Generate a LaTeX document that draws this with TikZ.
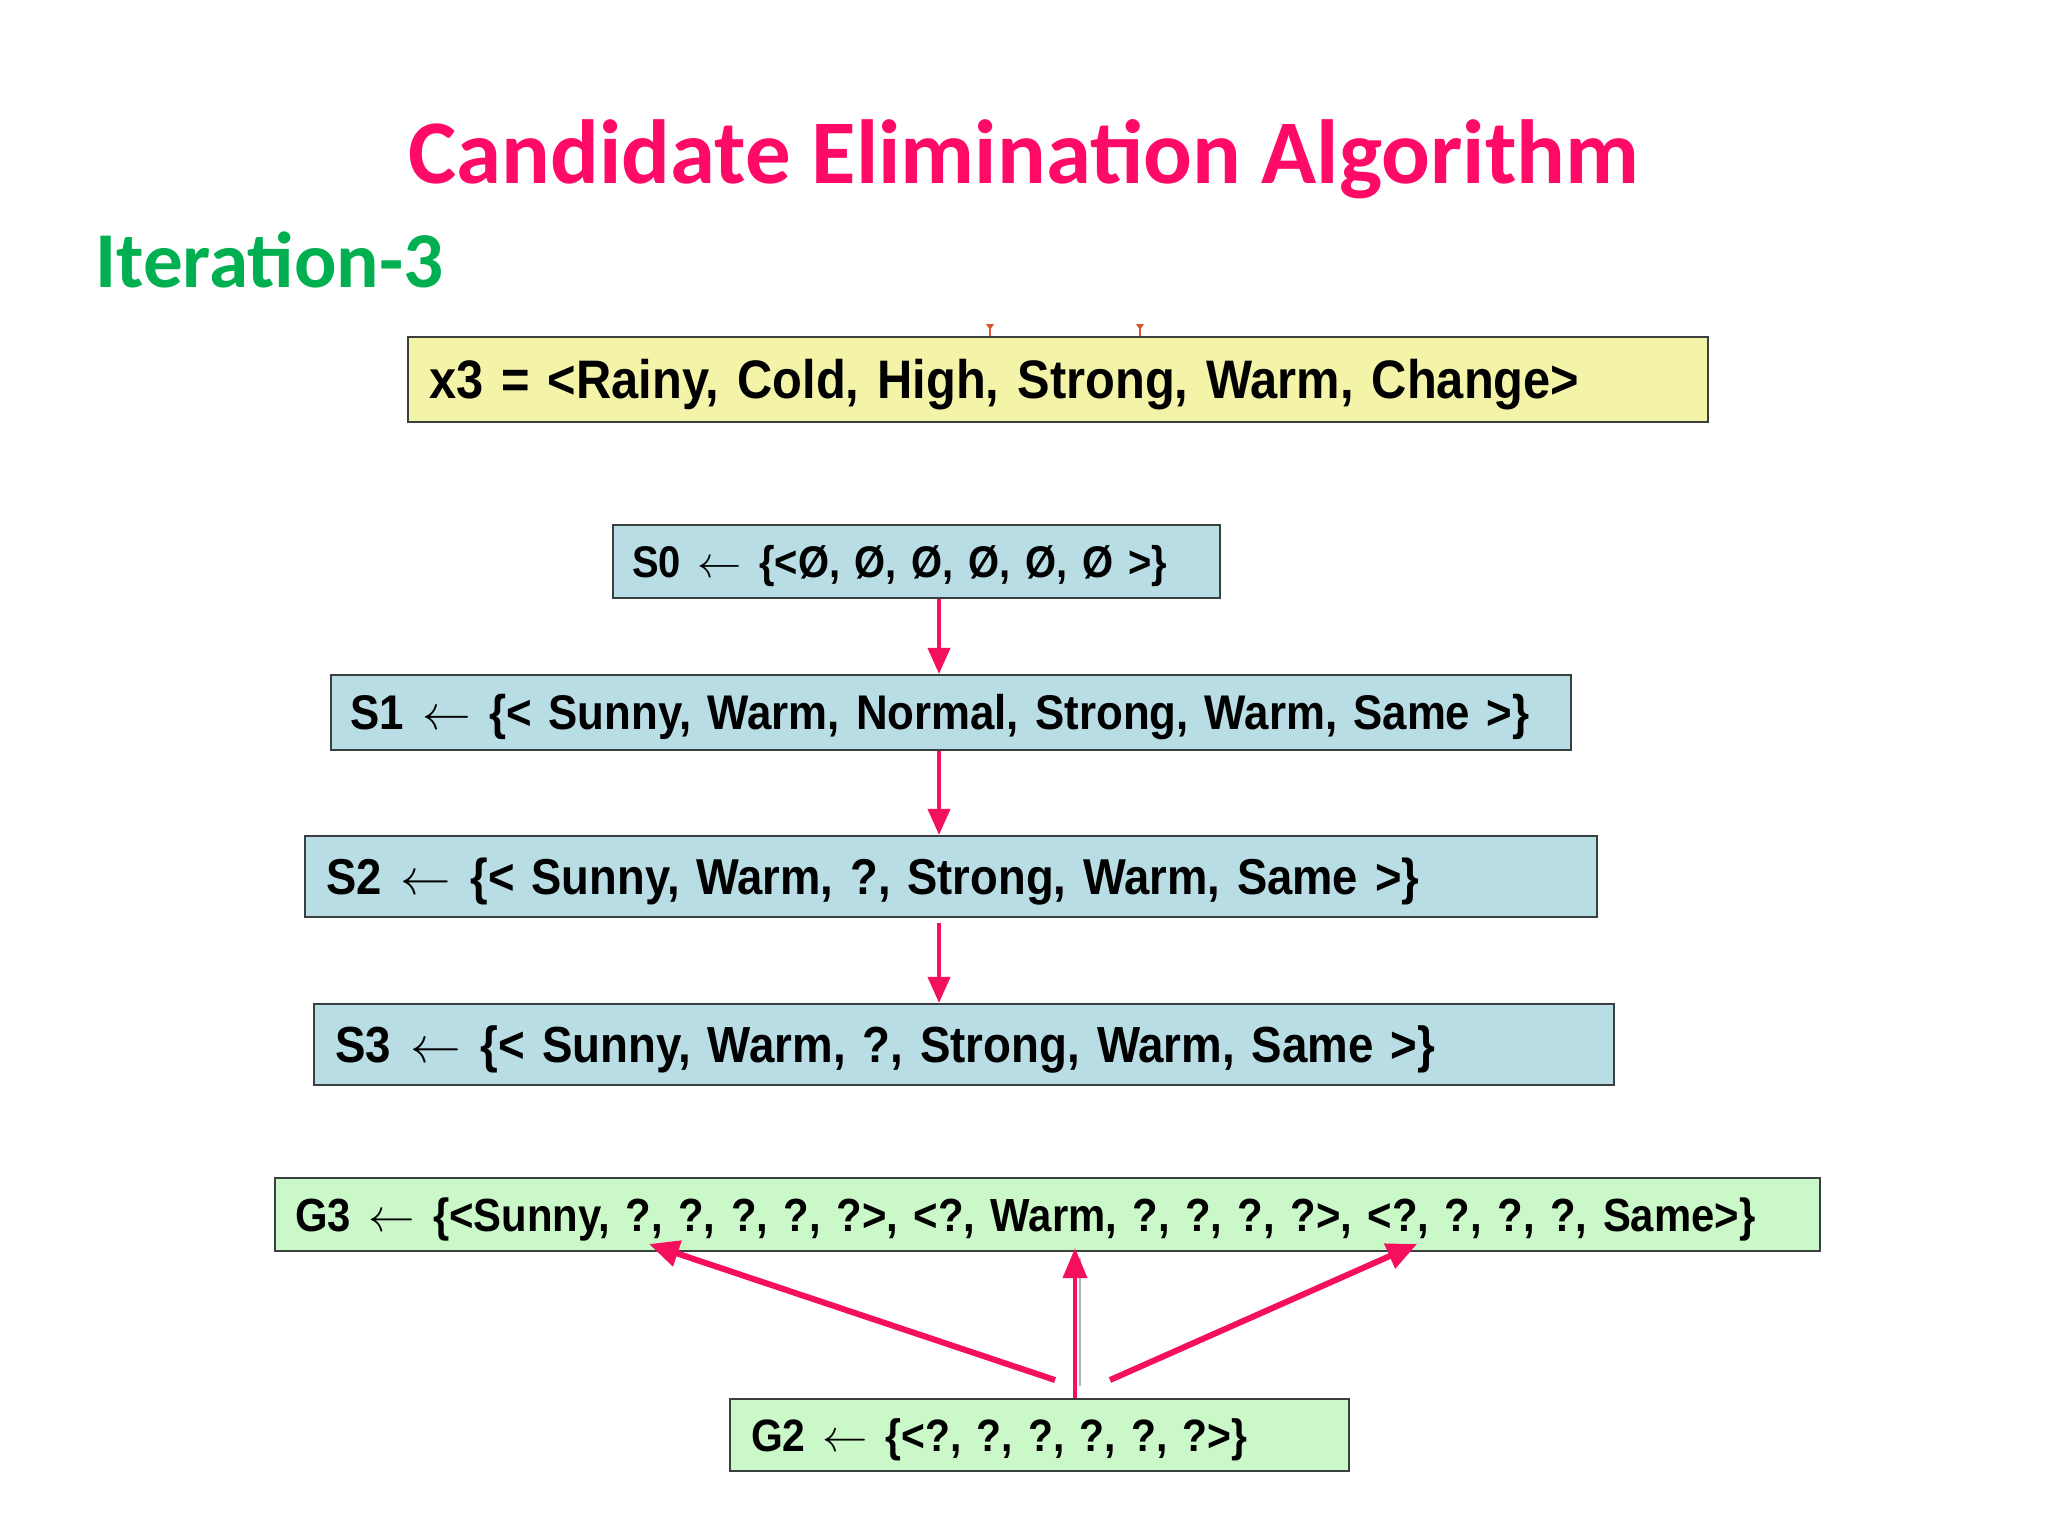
\documentclass[tikz,border=0pt]{standalone}
\usepackage{fontspec}
\usepackage{graphicx}
\usepackage{amsmath}
\usetikzlibrary{arrows.meta,calc}
\setmainfont{Carlito}
\newfontfamily\boxfont[FakeStretch=0.9,WordSpace=0.55]{Liberation Sans}
\definecolor{titlepink}{HTML}{FF0A66}
\definecolor{itergreen}{HTML}{00B050}
\definecolor{arrowpink}{HTML}{F5105E}
\definecolor{xyellow}{HTML}{F4F4A8}
\definecolor{sblue}{HTML}{B9DDE4}
\definecolor{ggreen}{HTML}{CBF8C8}
\definecolor{boxline}{HTML}{3A3F3F}
\definecolor{tickred}{HTML}{D9542B}
\newcommand\fittext[2]{\raisebox{-2.5pt}[\height][\depth]{\resizebox{#1}{!}{\boxfont\bfseries #2}}}
\newcommand\la{\kern0.05em$\leftarrow$\kern0.05em}
\begin{document}
\begin{tikzpicture}[x=0.5pt,y=-0.5pt,
  hbox/.style={draw=boxline, line width=1.1pt, inner ysep=0pt, align=left, anchor=west},
  sarrow/.style={draw=arrowpink, line width=2pt, -{Triangle[length=13pt,width=11pt]}},
  garrow/.style={draw=arrowpink, line width=3pt, -{Triangle[length=15pt,width=13pt]}}]
\useasboundingbox[fill=white] (0,0) rectangle (2048,1536);

\node[font=\fontsize{45.5}{54}\selectfont\bfseries, text=titlepink, anchor=base, inner sep=0pt] (title) at (1024,183) {Candidate Elimination Algorithm};
\node[font=\fontsize{39.6}{48}\selectfont\bfseries, text=itergreen, anchor=base west, inner sep=0pt] (iter) at (95,287) {Iteration-3};

% small tick marks above x3 box
\draw[tickred, line width=1pt] (990,324) -- (990,337);
\draw[tickred, line width=1pt] (1140,324) -- (1140,337);
\fill[tickred] (986,324) -- (994,324) -- (990,330) -- cycle;
\fill[tickred] (1136,324) -- (1144,324) -- (1140,330) -- cycle;

\node[hbox, fill=xyellow, minimum height=42.5pt, text width=629pt, inner xsep=10.5pt] (x3) at (407,379.5) {\fittext{575pt}{x3 = <Rainy, Cold, High, Strong, Warm, Change>}};

\node[hbox, fill=sblue, minimum height=36.5pt, text width=284.5pt, inner xsep=9.5pt] (S0) at (612,561.5) {\fittext{267.5pt}{S0 \la{} \{<Ø, Ø, Ø, Ø, Ø, Ø >\}}};
\node[hbox, fill=sblue, minimum height=37.5pt, text width=601pt, inner xsep=9.5pt] (S1) at (330,712.5) {\fittext{589.5pt}{S1 \la{} \{< Sunny, Warm, Normal, Strong, Warm, Same >\}}};
\node[hbox, fill=sblue, minimum height=40.5pt, text width=625pt, inner xsep=10.5pt] (S2) at (304,876.5) {\fittext{546.5pt}{S2 \la{} \{< Sunny, Warm, ?, Strong, Warm, Same >\}}};
\node[hbox, fill=sblue, minimum height=40.5pt, text width=629pt, inner xsep=10.5pt] (S3) at (313,1044.5) {\fittext{550pt}{S3 \la{} \{< Sunny, Warm, ?, Strong, Warm, Same >\}}};

\node[hbox, fill=ggreen, minimum height=36.5pt, text width=752.5pt, inner xsep=10pt] (G3) at (274,1214.5) {\fittext{730pt}{G3 \la{} \{<Sunny, ?, ?, ?, ?, ?>, <?, Warm, ?, ?, ?, ?>, <?, ?, ?, ?, Same>\}}};
\node[hbox, fill=ggreen, minimum height=36pt, text width=288.5pt, inner xsep=10.5pt] (G2) at (729,1435) {\fittext{248pt}{G2 \la{} \{<?, ?, ?, ?, ?, ?>\}}};

\coordinate (ax) at (939,0);
\draw[sarrow] (S0.south -| ax) -- (S1.north -| ax);
\draw[sarrow] (S1.south -| ax) -- (S2.north -| ax);
\draw[sarrow, shorten <=2.5pt] (S2.south -| ax) -- (S3.north -| ax);

\coordinate (gl0) at (1055,1380);
\coordinate (gl1) at (649,1244);
\coordinate (gr0) at (1110,1380);
\coordinate (gr1) at (1417,1244);
\coordinate (gc) at (1075,0);
\draw[garrow] (gl0) -- (gl1);
\draw[garrow] (gr0) -- (gr1);
\draw[draw=gray!60, line width=1pt] ($(G2.north -| gc)+(5,-12)$) -- ($(G3.south -| gc)+(5,6)$);
\draw[sarrow, -{Triangle[length=15pt,width=12pt]}] (G2.north -| gc) -- ($(G3.south -| gc)+(0,-4)$);
\end{tikzpicture}
\end{document}
